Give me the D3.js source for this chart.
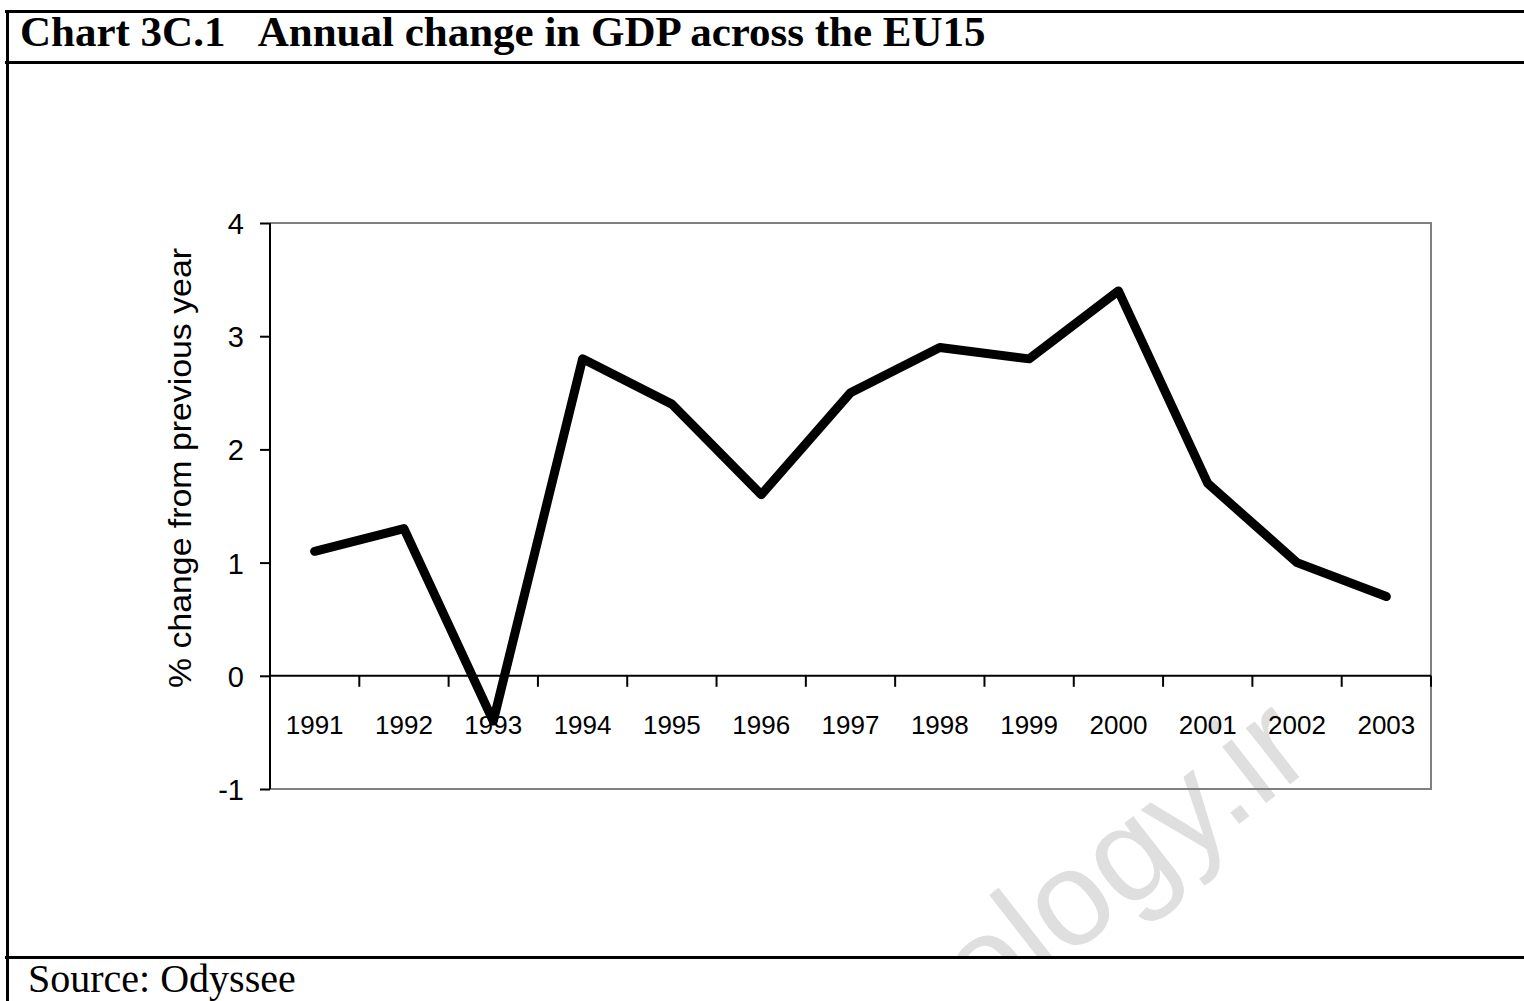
<!DOCTYPE html>
<html>
<head>
<meta charset="utf-8">
<script src="https://cdn.jsdelivr.net/npm/d3@7"></script>
<style>
  html, body { margin: 0; padding: 0; background: #fff; }
  svg { display: block; }
</style>
</head>
<body>
<div id="chart"></div>
<script>
(function () {

const [WIDTH, HEIGHT] = [1524, 1001];

// data
const years = ['1991', '1992', '1993', '1994', '1995', '1996', '1997',
    '1998', '1999', '2000', '2001', '2002', '2003'];
const gdpChange = [1.1, 1.3, -0.4, 2.8, 2.4, 1.6, 2.5, 2.9, 2.8, 3.4, 1.7, 1.0, 0.7];
const yTicks = [-1, 0, 1, 2, 3, 4];

const titleText = 'Chart 3C.1\u00a0\u00a0\u00a0Annual change in GDP across the EU15';
const sourceText = 'Source: Odyssee';
const yLabel = '% change from previous year';

const plot = { left: 270, right: 1431, top: 223, bottom: 789 };

const sans = 'Arial, "Liberation Sans", sans-serif';
const serif = '"Liberation Serif", "Times New Roman", serif';

const svg = d3.select('#chart').append('svg')
    .attr('width', WIDTH)
    .attr('height', HEIGHT)
    .attr('viewBox', `0 0 ${WIDTH} ${HEIGHT}`);

// faint watermark, clipped to the chart frame
svg.append('clipPath').attr('id', 'frameClip')
    .append('rect').attr('x', 8).attr('y', 64).attr('width', WIDTH).attr('height', 892);
svg.append('g').attr('clip-path', 'url(#frameClip)')
    .append('text')
    .attr('transform', 'translate(983, 1024) rotate(-38)')
    .attr('font-family', sans)
    .attr('font-size', 135)
    .attr('fill', '#dfdfdf')
    .text('ology.ir');

// frame lines
const frame = svg.append('g').attr('stroke', '#000').attr('stroke-width', 3);
frame.append('line').attr('x1', 5).attr('x2', WIDTH).attr('y1', 11.5).attr('y2', 11.5);
frame.append('line').attr('x1', 5).attr('x2', WIDTH).attr('y1', 62.5).attr('y2', 62.5);
frame.append('line').attr('x1', 5).attr('x2', WIDTH).attr('y1', 957.5).attr('y2', 957.5);
frame.append('line').attr('x1', 7.5).attr('x2', 7.5).attr('y1', 10).attr('y2', HEIGHT);

svg.append('text')
    .attr('x', 20).attr('y', 46)
    .attr('font-family', serif)
    .attr('font-weight', 'bold')
    .attr('font-size', 43)
    .text(titleText);

svg.append('text')
    .attr('x', 28).attr('y', 992)
    .attr('font-family', serif)
    .attr('font-size', 40)
    .text(sourceText);

// scales
const x = d3.scaleBand().domain(years).range([plot.left, plot.right]).padding(0);
const y = d3.scaleLinear().domain([-1, 4]).range([plot.bottom, plot.top]);

// plot border (gray)
svg.append('path')
    .attr('d', `M${plot.left},${plot.top}H${plot.right}V${plot.bottom}H${plot.left}`)
    .attr('fill', 'none')
    .attr('stroke', '#808080')
    .attr('stroke-width', 2);

// y axis
const yAxis = svg.append('g')
    .attr('transform', `translate(${plot.left},0)`)
    .call(d3.axisLeft(y).tickValues(yTicks).tickSize(10).tickPadding(16)
        .tickFormat((d) => String(d)));
yAxis.select('.domain').attr('stroke', '#000').attr('stroke-width', 2)
    .attr('d', `M0,${plot.top}V${plot.bottom}`);
yAxis.selectAll('.tick line').attr('stroke', '#000').attr('stroke-width', 2);
yAxis.selectAll('.tick text')
    .attr('font-family', sans).attr('font-size', 29).attr('fill', '#000')
    .attr('dy', '0.36em');

// x axis at zero, ticks between categories
const xAxis = svg.append('g')
    .attr('transform', `translate(0,${y(0)})`);
xAxis.append('line')
    .attr('x1', plot.left).attr('x2', plot.right)
    .attr('stroke', '#000').attr('stroke-width', 2);
const boundaries = years.map((d) => x(d) + x.bandwidth());
xAxis.selectAll('.xtick')
    .data(boundaries)
    .enter().append('line')
    .attr('class', 'xtick')
    .attr('x1', (d) => d).attr('x2', (d) => d)
    .attr('y1', 0).attr('y2', 11)
    .attr('stroke', '#000').attr('stroke-width', 2);
xAxis.selectAll('.xlabel')
    .data(years)
    .enter().append('text')
    .attr('class', 'xlabel')
    .attr('x', (d) => x(d) + x.bandwidth() / 2)
    .attr('y', 58)
    .attr('text-anchor', 'middle')
    .attr('font-family', sans)
    .attr('font-size', 26)
    .text((d) => d);

// y axis title
svg.append('text')
    .attr('transform', 'translate(191, 468) rotate(-90)')
    .attr('text-anchor', 'middle')
    .attr('font-family', sans)
    .attr('font-size', 31)
    .attr('textLength', 440)
    .attr('lengthAdjust', 'spacingAndGlyphs')
    .text(yLabel);

// the line
const line = d3.line()
    .x((d, i) => x(years[i]) + x.bandwidth() / 2)
    .y((d) => y(d));

svg.append('path')
    .datum(gdpChange)
    .attr('d', line)
    .attr('fill', 'none')
    .attr('stroke', '#000')
    .attr('stroke-width', 9)
    .attr('stroke-linejoin', 'round')
    .attr('stroke-linecap', 'round');

})();
</script>
</body>
</html>
